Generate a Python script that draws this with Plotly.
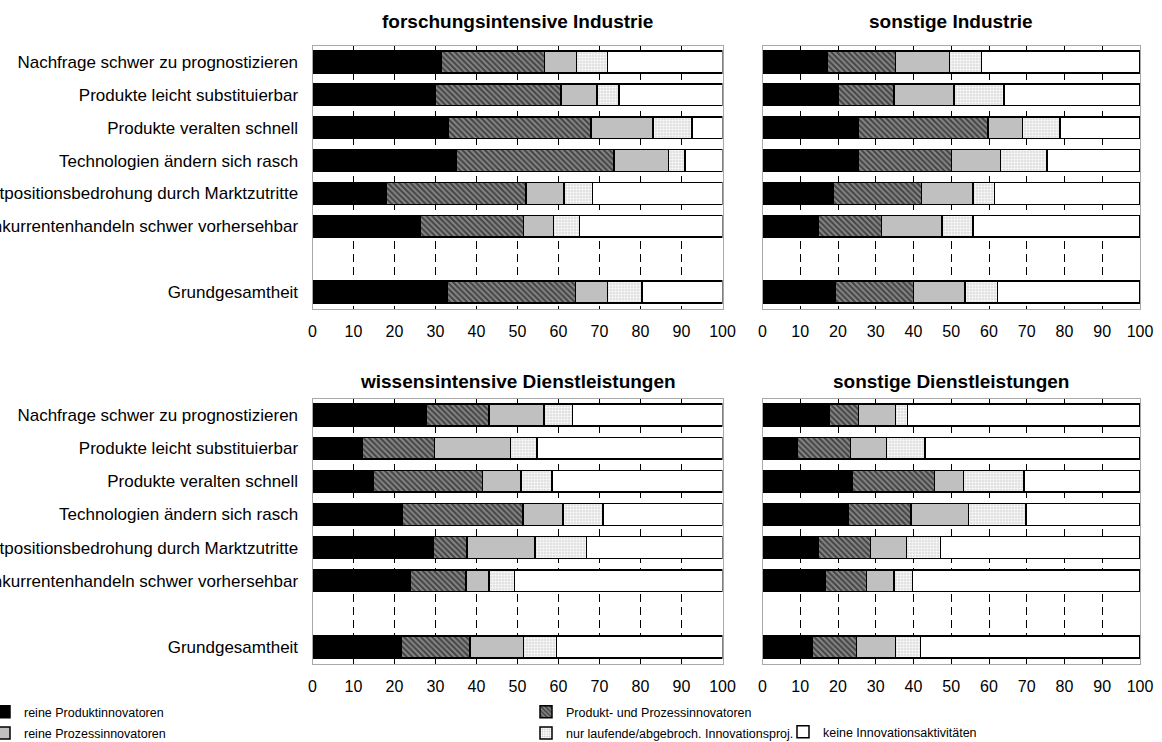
import plotly.graph_objects as go

W, H = 1162, 742

categories = [
    "Nachfrage schwer zu prognostizieren",
    "Produkte leicht substituierbar",
    "Produkte veralten schnell",
    "Technologien ändern sich rasch",
    "Marktpositionsbedrohung durch Marktzutritte",
    "Konkurrentenhandeln schwer vorhersehbar",
    "",
    "Grundgesamtheit",
]
row_labels = [c for c in categories if c]

series_names = [
    "reine Produktinnovatoren",
    "Produkt- und Prozessinnovatoren",
    "reine Prozessinnovatoren",
    "nur laufende/abgebroch. Innovationsproj.",
    "keine Innovationsaktivitäten",
]

panel_titles = [
    "forschungsintensive Industrie",
    "sonstige Industrie",
    "wissensintensive Dienstleistungen",
    "sonstige Dienstleistungen",
]

x_ticks = [0, 10, 20, 30, 40, 50, 60, 70, 80, 90, 100]

# forschungsintensive Industrie
fi_prod = [31.4, 30.0, 33.2, 35.1, 18.0, 26.3, 32.9]
fi_both = [25.2, 30.6, 34.7, 38.4, 34.1, 25.2, 31.2]
fi_proc = [7.8, 8.8, 15.1, 13.3, 9.3, 7.3, 7.9]
fi_run = [7.6, 5.3, 9.5, 4.0, 6.9, 6.3, 8.4]
fi_none = [28.0, 25.3, 7.5, 9.2, 31.7, 34.9, 19.6]

# sonstige Industrie
si_prod = [17.2, 20.1, 25.4, 25.4, 18.7, 14.7, 19.3]
si_both = [18.0, 14.7, 34.4, 24.6, 23.4, 16.8, 20.7]
si_proc = [14.3, 15.9, 9.1, 13.1, 13.6, 16.0, 13.6]
si_run = [8.5, 13.3, 9.9, 12.3, 5.7, 8.2, 8.7]
si_none = [42.0, 36.0, 21.2, 24.6, 38.6, 44.3, 37.7]

# wissensintensive Dienstleistungen
wd_prod = [27.7, 12.1, 14.8, 21.9, 29.5, 23.9, 21.7]
wd_both = [15.4, 17.7, 26.7, 29.4, 8.2, 13.5, 16.7]
wd_proc = [13.4, 18.5, 9.4, 9.8, 16.6, 5.6, 13.1]
wd_run = [6.9, 6.5, 7.5, 9.8, 12.5, 6.3, 8.0]
wd_none = [36.6, 45.2, 41.6, 29.1, 33.2, 50.7, 40.5]

# sonstige Dienstleistungen
sd_prod = [17.8, 9.2, 23.9, 22.7, 14.8, 16.5, 13.3]
sd_both = [7.6, 14.1, 21.6, 16.7, 13.8, 11.0, 11.6]
sd_proc = [9.8, 9.5, 7.8, 15.2, 9.6, 7.3, 10.3]
sd_run = [3.2, 10.2, 16.0, 15.2, 9.0, 5.0, 6.6]
sd_none = [61.6, 57.0, 30.7, 30.2, 52.8, 60.2, 58.2]

panels = [
    [fi_prod, fi_both, fi_proc, fi_run, fi_none],
    [si_prod, si_both, si_proc, si_run, si_none],
    [wd_prod, wd_both, wd_proc, wd_run, wd_none],
    [sd_prod, sd_both, sd_proc, sd_run, sd_none],
]

styles = [
    dict(color="#000000"),
    dict(color="#7a7a7a", pattern=dict(shape="\\", fgcolor="#000000", bgcolor="#868686", size=4, solidity=0.5)),
    dict(color="#c0c0c0"),
    dict(color="#ffffff", pattern=dict(shape=".", fgcolor="#8a8a8a", bgcolor="#ffffff", size=3, solidity=0.4)),
    dict(color="#ffffff"),
]
legend_of = ["legend", "legend2", "legend", "legend2", "legend3"]

FONT = "Liberation Sans, Arial, sans-serif"

def px_x(a, b):
    return [a / W, b / W]

def px_y(top, bottom):
    return [1 - bottom / H, 1 - top / H]

x_domains = [px_x(312.5, 722.5), px_x(762.5, 1140), px_x(312.5, 722.5), px_x(762.5, 1140)]
y_domains = [px_y(45.5, 308.5), px_y(45.5, 308.5), px_y(398.5, 663.5), px_y(398.5, 663.5)]
title_y_px = [22, 22, 381, 381]

fig = go.Figure()

y_pos = [categories.index(c) for c in row_labels]

for p, data in enumerate(panels):
    xa = "x" if p == 0 else f"x{p+1}"
    ya = "y" if p == 0 else f"y{p+1}"
    for s, vals in enumerate(data):
        fig.add_trace(go.Bar(
            x=vals, y=y_pos, orientation="h",
            name=series_names[s],
            marker=dict(**styles[s], line=dict(color="#000000", width=1.5)),
            width=0.66,
            xaxis=xa, yaxis=ya,
            showlegend=(p == 0),
            legend=legend_of[s],
            legendgroup=f"g{s}",
            hoverinfo="skip",
        ))

layout = dict(
    width=W, height=H,
    margin=dict(l=0, r=0, t=0, b=0, autoexpand=False),
    barmode="stack",
    paper_bgcolor="white",
    plot_bgcolor="white",
    font=dict(family=FONT, size=15, color="#000000"),
    annotations=[],
)

for p in range(4):
    key = "" if p == 0 else str(p + 1)
    xa_name = "x" + key
    ya_name = "y" + key
    layout["xaxis" + key] = dict(
        domain=x_domains[p], anchor=ya_name, range=[0, 100],
        tickmode="array", tickvals=x_ticks, ticktext=[str(t) for t in x_ticks],
        showgrid=True, gridcolor="#000000", gridwidth=1, griddash="8px,5px",
        zeroline=False, showline=True, mirror=True, linecolor="#a8a8a8", linewidth=1,
        ticks="outside", ticklen=8, tickcolor="rgba(0,0,0,0)",
        tickfont=dict(size=16, family=FONT),
        automargin=False, fixedrange=True,
    )
    layout["yaxis" + key] = dict(
        domain=y_domains[p], anchor=xa_name, range=[len(categories) - 0.5, -0.5],
        tickmode="array", tickvals=y_pos, ticktext=row_labels,
        showticklabels=(p % 2 == 0),
        showgrid=False, zeroline=False, showline=True, mirror=True,
        linecolor="#a8a8a8", linewidth=1,
        ticks="outside", ticklen=10, tickcolor="rgba(0,0,0,0)",
        tickfont=dict(size=17, family=FONT),
        automargin=False, fixedrange=True,
    )
    xd = x_domains[p]
    layout["annotations"].append(dict(
        text="<b>" + panel_titles[p] + "</b>", xref="paper", yref="paper",
        x=(xd[0] + xd[1]) / 2, y=1 - title_y_px[p] / H, xanchor="center", yanchor="middle",
        showarrow=False, font=dict(size=19, family=FONT, color="#000000"),
    ))

leg_common = dict(
    orientation="v", xanchor="left", yanchor="top", bgcolor="rgba(0,0,0,0)",
    font=dict(size=12.5, family=FONT, color="#000000"), itemwidth=30,
    tracegroupgap=2, traceorder="grouped",
)
layout["legend"] = dict(leg_common, x=-16 / W, y=1 - 697 / H)
layout["legend2"] = dict(leg_common, x=526 / W, y=1 - 697 / H)
layout["legend3"] = dict(leg_common, x=783 / W, y=1 - 717 / H)

fig.update_layout(**layout)
fig.write_html(
    "out.html",
    config={"displayModeBar": False},
    post_script="document.body.style.margin='0';document.body.style.overflow='hidden';",
)
